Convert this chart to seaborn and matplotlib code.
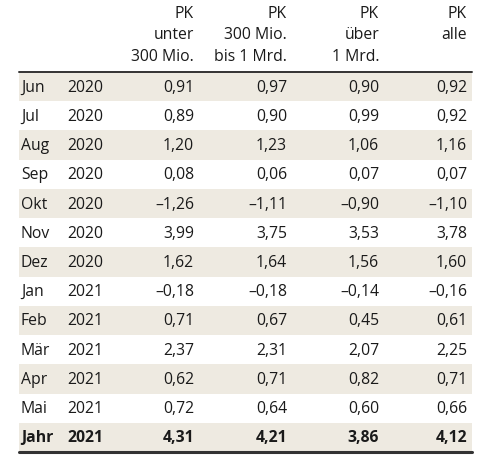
import numpy as np
import matplotlib
matplotlib.use("Agg")
import matplotlib.pyplot as plt
from matplotlib.colors import ListedColormap
import seaborn as sns

months = ["Jun", "Jul", "Aug", "Sep", "Okt", "Nov", "Dez", "Jan", "Feb", "Mär", "Apr", "Mai", "Jahr"]
years = [2020, 2020, 2020, 2020, 2020, 2020, 2020, 2021, 2021, 2021, 2021, 2021, 2021]
pk_unter_300 = [0.91, 0.89, 1.20, 0.08, -1.26, 3.99, 1.62, -0.18, 0.71, 2.37, 0.62, 0.72, 4.31]
pk_300_bis_1 = [0.97, 0.90, 1.23, 0.06, -1.11, 3.75, 1.64, -0.18, 0.67, 2.31, 0.71, 0.64, 4.21]
pk_ueber_1 = [0.90, 0.99, 1.06, 0.07, -0.90, 3.53, 1.56, -0.14, 0.45, 2.07, 0.82, 0.60, 3.86]
pk_alle = [0.92, 0.92, 1.16, 0.07, -1.10, 3.78, 1.60, -0.16, 0.61, 2.25, 0.71, 0.66, 4.12]
headers = [["PK", "unter", "300 Mio."],
           ["PK", "300 Mio.", "bis 1 Mrd."],
           ["PK", "über", "1 Mrd."],
           ["PK", "alle", ""]]

sns.set_theme(style="white")
plt.rcParams["font.family"] = ["Open Sans", "DejaVu Sans"]

W, H = 500, 464
fig = plt.figure(figsize=(W / 100, H / 100), dpi=100)
left, right, top, bottom = 19, 472, 73, 453
ax = fig.add_axes([left / W, 1 - bottom / H, (right - left) / W, (bottom - top) / H])

# alternating row stripes
stripes = (np.arange(len(months)) % 2 == 0).astype(int).reshape(-1, 1)
sns.heatmap(stripes, ax=ax, cmap=ListedColormap(["white", "#EEEAE1"]), cbar=False,
            xticklabels=False, yticklabels=False, linewidths=0)
ax.set_xlim(0, 1)

def fx(px):
    return (px - left) / (right - left)

def fmt(v):
    s = f"{abs(v):.2f}".replace(".", ",")
    return ("\u2013" + s) if v < 0 else s

txt = "#1a1a1a"
fs = 11.3
col_x = [194, 287, 379, 467]
series = [pk_unter_300, pk_300_bis_1, pk_ueber_1, pk_alle]
for i, m in enumerate(months):
    w = "bold" if m == "Jahr" else "normal"
    y = i + 0.5
    ax.text(fx(21), y, m, ha="left", va="center", fontsize=fs, color=txt, fontweight=w)
    ax.text(fx(67), y, str(years[i]), ha="left", va="center", fontsize=fs, color=txt, fontweight=w)
    for cx, vals in zip(col_x, series):
        ax.text(fx(cx), y, fmt(vals[i]), ha="right", va="center", fontsize=fs, color=txt, fontweight=w)

# column headers
for cx, lines in zip(col_x, headers):
    for ly, t in zip([14, 35, 57], lines):
        if t:
            fig.text(cx / W, 1 - ly / H, t, ha="right", va="center", fontsize=fs, color=txt)

ax.axhline(0, color="#333333", lw=1.4, clip_on=False)
ax.axhline(len(months), color="#333333", lw=2.2, clip_on=False)
sns.despine(ax=ax, left=True, bottom=True)

fig.savefig("out.png", dpi=100)
